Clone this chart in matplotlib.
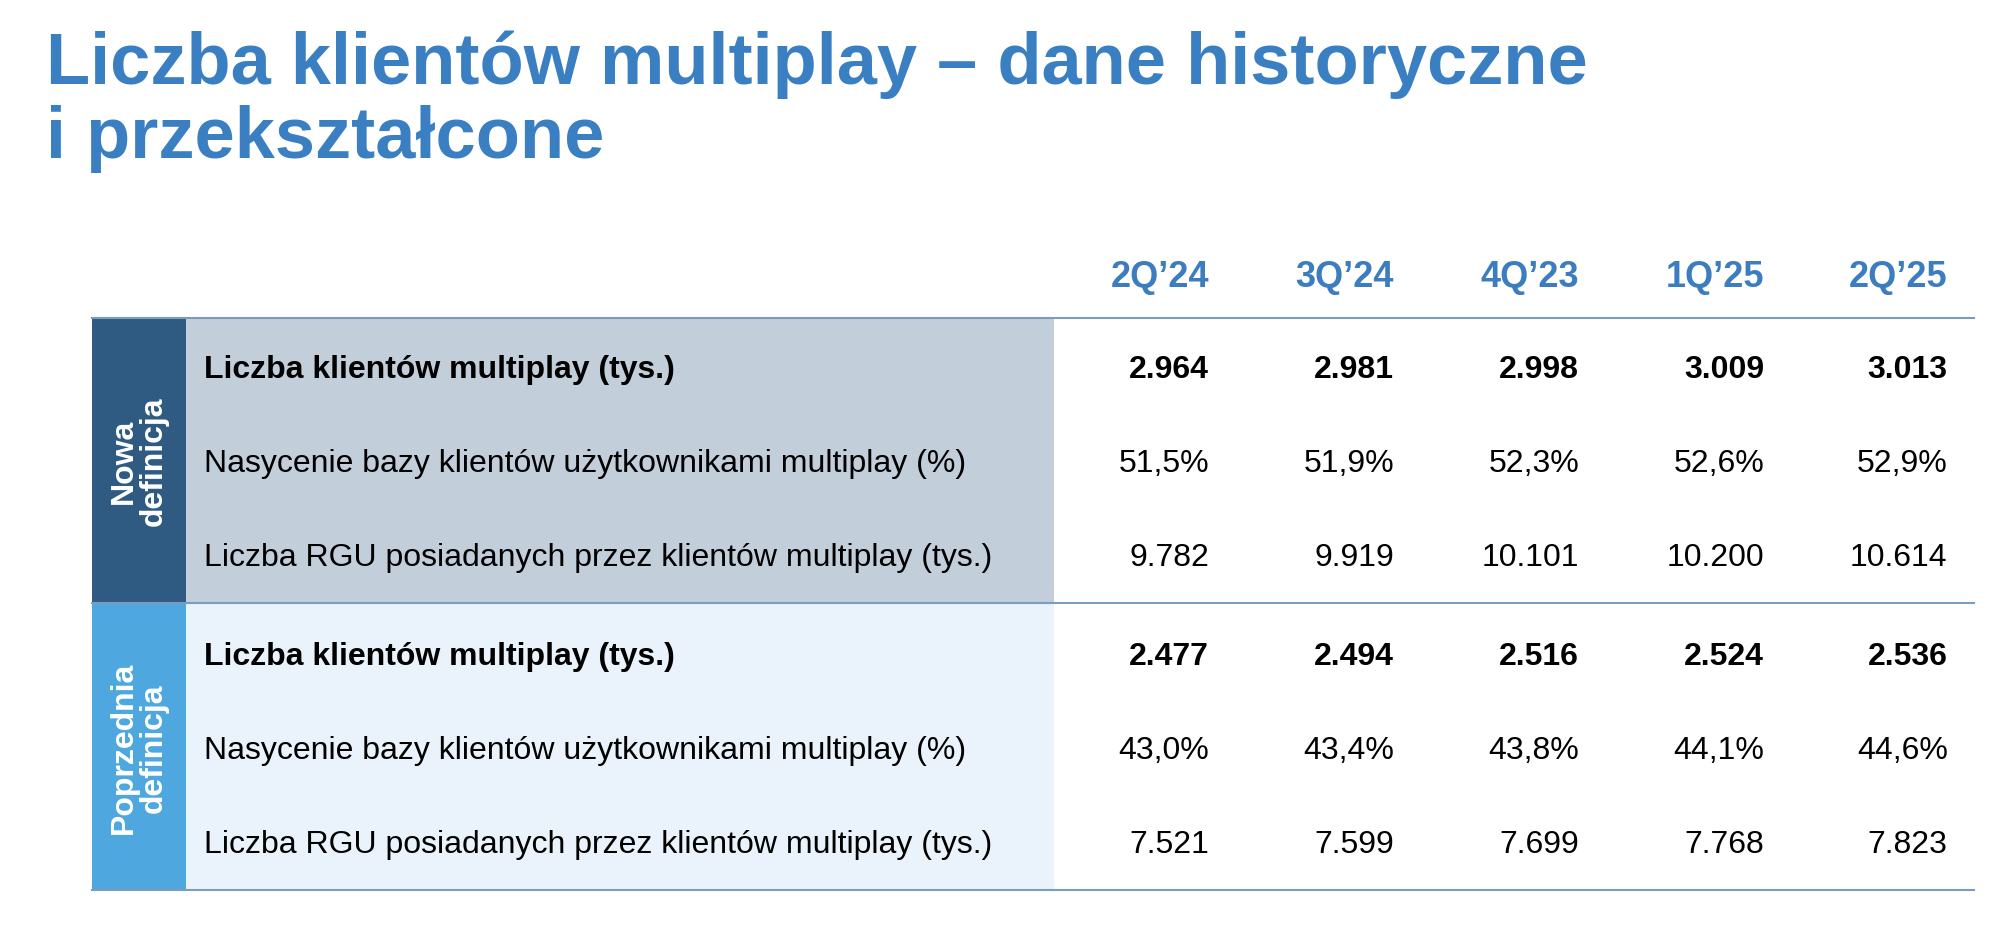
import matplotlib
matplotlib.use("Agg")
import matplotlib.pyplot as plt
from matplotlib.patches import Rectangle

title = "Liczba klientów multiplay – dane historyczne\ni przekształcone"
periods = ["2Q’24", "3Q’24", "4Q’23", "1Q’25", "2Q’25"]
row_labels = ["Liczba klientów multiplay (tys.)",
              "Nasycenie bazy klientów użytkownikami multiplay (%)",
              "Liczba RGU posiadanych przez klientów multiplay (tys.)"]
groups = ["Nowa\ndefinicja", "Poprzednia\ndefinicja"]
new_values = [["2.964", "2.981", "2.998", "3.009", "3.013"],
              ["51,5%", "51,9%", "52,3%", "52,6%", "52,9%"],
              ["9.782", "9.919", "10.101", "10.200", "10.614"]]
old_values = [["2.477", "2.494", "2.516", "2.524", "2.536"],
              ["43,0%", "43,4%", "43,8%", "44,1%", "44,6%"],
              ["7.521", "7.599", "7.699", "7.768", "7.823"]]

W, H = 1568, 735
fig = plt.figure(figsize=(20, 9.37), dpi=100)
ax = fig.add_axes([0, 0, 1, 1])
ax.set_xlim(0, W); ax.set_ylim(H, 0); ax.axis("off")
plt.rcParams["font.family"] = "Liberation Sans"

ax.text(36, 24, title, fontsize=52, fontweight="bold", color="#3A7FC1",
        va="top", ha="left", linespacing=1.12)

col_x = [948, 1093, 1238, 1383, 1527]
for x, p in zip(col_x, periods):
    ax.text(x, 218, p, fontsize=26, fontweight="bold", color="#3C7DC0", ha="right", va="center")

ax.add_patch(Rectangle((72, 250), 74, 224, color="#2F5A82", lw=0))
ax.add_patch(Rectangle((146, 250), 680, 224, color="#C3CEDB", lw=0))
ax.add_patch(Rectangle((72, 474), 74, 225, color="#4EA8DF", lw=0))
ax.add_patch(Rectangle((146, 474), 680, 225, color="#EAF3FB", lw=0))
for y in (250, 474, 699):
    ax.plot([72, 1548], [y, y], color="#7A9CC0", lw=1.5)

ax.text(109, 362, groups[0], rotation=90, color="white", fontsize=23, fontweight="bold",
        ha="center", va="center", linespacing=1.0)
ax.text(109, 587, groups[1], rotation=90, color="white", fontsize=23, fontweight="bold",
        ha="center", va="center", linespacing=1.0)

for base, vals in ((290, new_values), (515, old_values)):
    for i, (lab, row) in enumerate(zip(row_labels, vals)):
        y = base + i * 74
        fw = "bold" if i == 0 else "normal"
        ax.text(160, y, lab, fontsize=23, fontweight=fw, color="black", ha="left", va="center")
        for x, v in zip(col_x, row):
            ax.text(x, y, v, fontsize=23, fontweight=fw, color="black", ha="right", va="center")

fig.savefig("out.png", dpi=100, facecolor="white")
